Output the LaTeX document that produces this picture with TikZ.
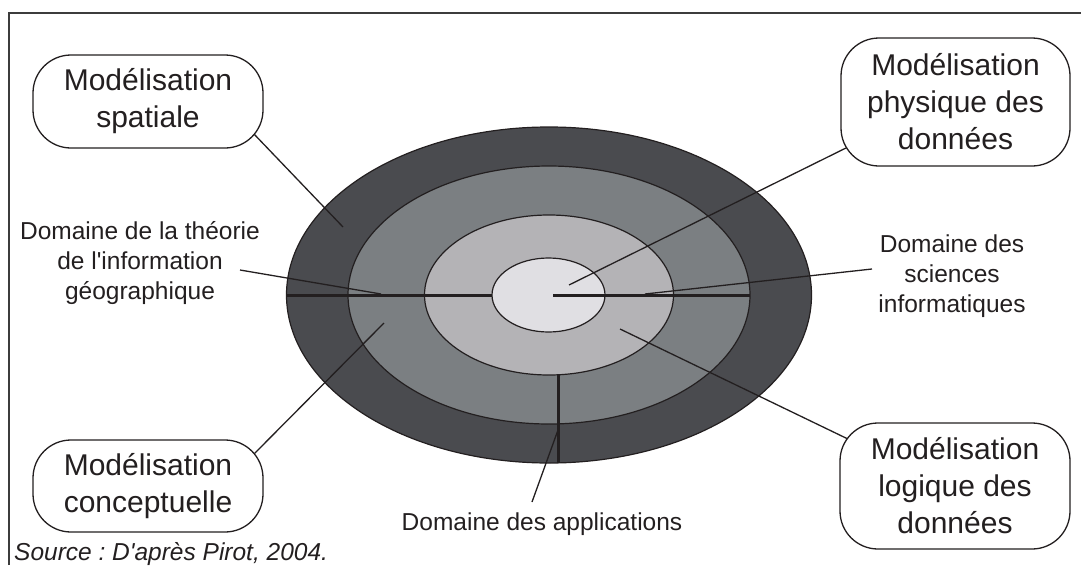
\documentclass[tikz,border=0pt]{standalone}
\usepackage{fontspec}
\setmainfont{Liberation Sans}
\usetikzlibrary{calc}
\frenchspacing
\definecolor{ringA}{HTML}{4A4B4F}
\definecolor{ringB}{HTML}{7B7F82}
\definecolor{ringC}{HTML}{B4B3B6}
\definecolor{ringD}{HTML}{E0DFE3}
\definecolor{linec}{HTML}{231F20}
\definecolor{textc}{HTML}{231F20}
\definecolor{framec}{HTML}{3C3C3C}
\begin{document}
\begin{tikzpicture}[x=1pt,y=-1pt,
  box/.style={draw=linec, line width=1.3pt, fill=white, rounded corners=38pt,
    minimum width=230pt, align=center, font=\fontsize{30}{37}\selectfont,
    text=textc, inner sep=0pt},
  lbl/.style={align=center, font=\fontsize{24.5}{30}\selectfont, text=textc, inner sep=0pt},
  leader/.style={draw=linec, line width=1.3pt},
  ring/.style={draw=linec, line width=1.2pt},
  divider/.style={draw=linec, line width=3pt}]
\useasboundingbox (0,0) rectangle (1081,565);
% frame
\draw[framec, line width=1.5pt] (9,565) -- (9,13) -- (1081,13);
% rings
\coordinate (c) at (549,295);
\filldraw[ring, fill=ringA] (c) ellipse [x radius=262.5pt, y radius=168pt];
\filldraw[ring, fill=ringB] (c) ellipse [x radius=201pt, y radius=129pt];
\filldraw[ring, fill=ringC] (c) ellipse [x radius=124.5pt, y radius=80pt];
\filldraw[ring, fill=ringD] (548.5,295) ellipse [x radius=56.5pt, y radius=37pt];
% dividers
\coordinate (hl1) at (286,295);
\coordinate (hl2) at (492,295);
\coordinate (hr1) at (553,295);
\coordinate (hr2) at (750,295);
\coordinate (v1) at (558,375);
\coordinate (v2) at (558,463);
\draw[divider] (hl1) -- (hl2);
\draw[divider] (hr1) -- (hr2);
\draw[divider] (v1) -- (v2);
% leader end points
\coordinate (pSpat) at (343,227);
\coordinate (eSpat) at (253,133);
\coordinate (pPhys) at (569,285);
\coordinate (ePhys) at (850,146);
\coordinate (pConc) at (384,323);
\coordinate (eConc) at (253,455);
\coordinate (pLog) at (620,329);
\coordinate (eLog) at (850,440);
\coordinate (pTheo) at (381,294);
\coordinate (eTheo) at (240,270);
\coordinate (pSci) at (645,294);
\coordinate (eSci) at (872,269);
\coordinate (pApp) at (558,430);
\coordinate (eApp) at (532,502);
\draw[leader] (eSpat) -- (pSpat);
\draw[leader] (ePhys) -- (pPhys);
\draw[leader] (eConc) -- (pConc);
\draw[leader] (eLog) -- (pLog);
\draw[leader] (eTheo) -- (pTheo);
\draw[leader] (eSci) -- (pSci);
\draw[leader] (eApp) -- (pApp);
% boxes
\node[box, minimum height=93pt] (spat) at (148,101.5) {Modélisation\\spatiale};
\node[box, minimum height=128pt, minimum width=229pt] (phys) at (955.5,102) {Modélisation\\physique des\\données};
\node[box, minimum height=92pt] (conc) at (148,486) {Modélisation\\conceptuelle};
\node[box, minimum height=126pt] (logi) at (955,486) {Modélisation\\logique des\\données};
% labels
\node[lbl] (theo) at (140,263.5) {Domaine de la théorie\\de l\textquotesingle information\\géographique};
\node[lbl] (sci) at (952,276) {Domaine des\\sciences\\informatiques};
\node[lbl, anchor=base] (app) at (542,530) {Domaine des applications};
\node[lbl, anchor=base west, font=\itshape\fontsize{24.5}{30}\selectfont] (src) at (14,560) {Source : D\textquotesingle après Pirot, 2004.};
\end{tikzpicture}
\end{document}
